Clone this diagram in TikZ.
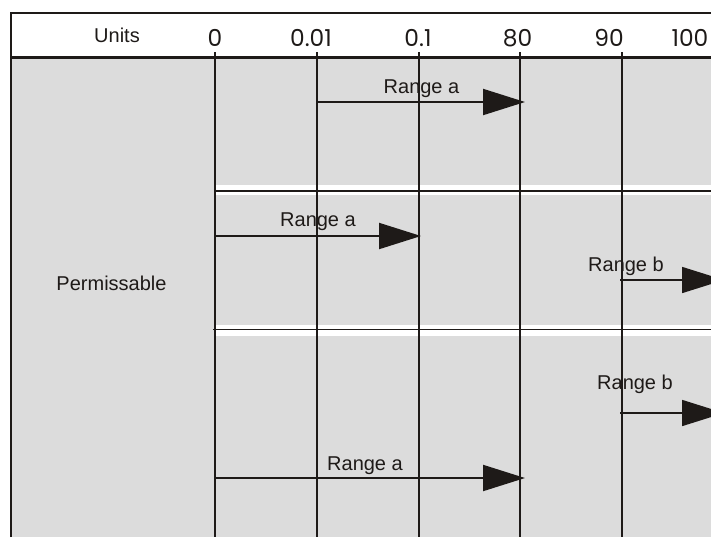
\documentclass[tikz,border=0pt]{standalone}
\usepackage{fontspec}
\setmainfont{Liberation Sans}
\newfontfamily\numfont{Poppins}
\usetikzlibrary{arrows.meta}
\definecolor{panelgray}{RGB}{220,220,220}
\definecolor{ink}{RGB}{30,26,24}

\begin{document}
\begin{tikzpicture}[x=0.75pt,y=-0.75pt,
  rangearrow/.style={draw=ink, line width=1.5pt, -{Triangle[length=31.5pt,width=19.5pt]}},
  txt/.style={font=\fontsize{15}{18}\selectfont, inner sep=0pt, anchor=base, text=ink},
  num/.style={font=\numfont\fontsize{17.5}{20}\selectfont, inner sep=0pt, anchor=base, text=ink},
  sep/.style={draw=white, line width=8pt}]
  \useasboundingbox (0,0) rectangle (711,537);
  \clip (0,0) rectangle (711,537);
  \fill[panelgray] (11,58) rectangle (711,537);

  % separators between the rows
  \draw[sep] (215,190) -- (711,190);
  \draw[sep] (215,330.5) -- (711,330.5);
  \draw[ink, line width=1.1pt] (215,191) -- (711,191);
  \draw[ink, line width=1.1pt] (213,329.5) -- (711,329.5);

  % frame
  \draw[ink, line width=1.5pt] (11,537) -- (11,12.5) -- (711,12.5);
  \draw[ink, line width=2.2pt] (11,57.5) -- (711,57.5);

  \node[txt] (units) at (117,42.7) {Units};
  \node[num] (n0)   at (215,46.7) {0};
  \node[num] (n001) at (311,46.7) {0.01};
  \node[num] (n01)  at (418,46.7) {0.1};
  \node[num] (n80)  at (517.5,46.7) {80};
  \node[num] (n90)  at (609,46.7) {90};
  \node[num] (n100) at (690,46.7) {100};

  \draw[ink, line width=1.5pt] (215,52) coordinate(c0s) -- (215,537) coordinate(c0e);
  \draw[ink, line width=1.5pt] (317,52) coordinate(c1s) -- (317,537) coordinate(c1e);
  \draw[ink, line width=1.5pt] (419,52) coordinate(c2s) -- (419,537) coordinate(c2e);
  \draw[ink, line width=1.5pt] (520,52) coordinate(c3s) -- (520,537) coordinate(c3e);
  \draw[ink, line width=1.2pt] (622,52) coordinate(c4s) -- (622,537) coordinate(c4e);

  \node[txt] (perm) at (111.5,290) {Permissable};

  % first row
  \coordinate (a1s) at (317,102);
  \coordinate (a1e) at (525,102);
  \draw[rangearrow] (a1s) -- (a1e);
  \node[txt] (ra1) at (421.5,93) {Range a};

  % second row
  \coordinate (a2s) at (215,236);
  \coordinate (a2e) at (421,236);
  \draw[rangearrow] (a2s) -- (a2e);
  \node[txt] (ra2) at (318,226.7) {Range a};
  \coordinate (b2s) at (620,280);
  \coordinate (b2e) at (724,280);
  \draw[rangearrow, line width=1.2pt] (b2s) -- (b2e);
  \node[txt] (rb2) at (626,271.7) {Range b};

  % third row
  \coordinate (b3s) at (620,413);
  \coordinate (b3e) at (724,413);
  \draw[rangearrow, line width=1.2pt] (b3s) -- (b3e);
  \node[txt] (rb3) at (635,389) {Range b};
  \coordinate (a3s) at (215,478);
  \coordinate (a3e) at (525,478);
  \draw[rangearrow] (a3s) -- (a3e);
  \node[txt] (ra3) at (365,470) {Range a};
\end{tikzpicture}
\end{document}
